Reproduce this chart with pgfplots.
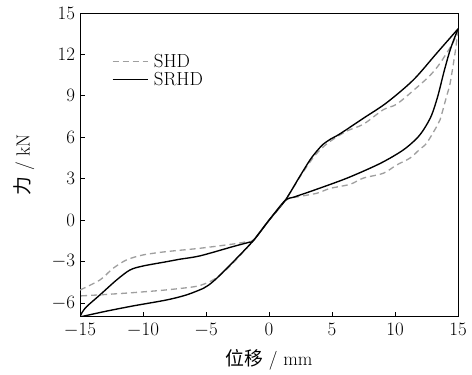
\documentclass[border=0pt]{standalone}
\usepackage{pgfplots}
\pgfplotsset{compat=1.18}
\usepackage{fontspec}
\newfontfamily\cjk{Noto Sans CJK SC}
\begin{document}
\begin{tikzpicture}[font=\fontsize{17.28}{20}\selectfont]
\begin{axis}[
  scale only axis,
  width=344bp, height=276.6bp,
  xmin=-15, xmax=15, ymin=-7, ymax=15,
  xtick={-15,-10,...,15},
  ytick={-6,-3,...,15},
  tick align=inside,
  xtick pos=bottom, ytick pos=left,
  major tick length=4.5bp,
  axis line style={line width=0.8pt},
  every tick/.style={line width=0.75pt, black},
  xticklabel style={yshift=-2bp},
  yticklabel style={xshift=-1bp},
  xlabel={{\cjk 位移} / mm},
  ylabel={{\cjk 力} / kN},
  xlabel style={yshift=-5bp},
  ylabel style={yshift=9bp},
  legend style={draw=none, fill=none, at={(0.075,0.88)}, anchor=north west,
    row sep=-1bp, column sep=3bp, cells={anchor=west}},
  legend image code/.code={\draw[#1] (0bp,0bp) -- (32bp,0bp);},
]
% SHD upper branch
\addplot[gray!75, line width=1.2pt, dash pattern=on 5.5bp off 3.6bp, smooth, tension=0.5] coordinates {
(-15,-5.05) (-13.41,-4.32) (-12.4,-3.5) (-11.3,-2.87) (-9.98,-2.51) (-8.12,-2.27)
(-5.48,-2.03) (-2.83,-1.72) (-1.9,-1.58) (-1.24,-1.42) (0,0) (1.27,1.42)
(2.5,3.2) (3.4,4.4) (4.05,5.09) (4.84,5.7) (6.16,6.45) (7.49,6.95) (9.07,8.0)
(10.13,8.4) (11.72,9.6) (12.8,10.5) (13.57,11.36) (14.63,12.9) (15,13.8)};
\addlegendentry{SHD}
% SRHD upper branch
\addplot[black, line width=1.25pt, smooth, tension=0.5] coordinates {
(-15,-7.0) (-14.85,-6.7) (-14.47,-6.25) (-13.41,-5.4) (-12.09,-4.32) (-11.03,-3.6)
(-9.98,-3.31) (-8.12,-3.0) (-7.06,-2.82) (-5.48,-2.58) (-2.83,-1.9) (-1.6,-1.6)
(-1.24,-1.47) (0,0) (1.27,1.42) (2.46,3.2) (3.25,4.36) (3.79,5.0) (4.3,5.5)
(4.9,5.88) (5.63,6.25) (7.49,7.38) (9.33,8.5) (11.45,10.15) (13.3,12.08) (15,13.85)};
\addlegendentry{SRHD}
% SHD lower branch
\addplot[gray!75, line width=1.2pt, dash pattern=on 5.5bp off 3.6bp, smooth, tension=0.5, forget plot] coordinates {
(15,13.8) (14.9,13.05) (14.76,12.08) (14.37,9.9) (14.1,9.0) (13.57,7.26) (13.3,6.77)
(12.5,5.57) (11.98,5.15) (11.19,4.5) (10.13,4.0) (9.07,3.4) (7.49,3.05) (6.43,2.6)
(4.84,2.3) (3.79,1.95) (2.2,1.68) (1.35,1.45) (0,0) (-1.24,-1.47) (-2.5,-2.75)
(-3.3,-3.5) (-4.0,-4.05) (-4.6,-4.4) (-5.74,-4.78) (-8.12,-5.04) (-10.77,-5.24)
(-13.41,-5.4) (-15,-5.48)};
% SRHD lower branch
\addplot[black, line width=1.25pt, smooth, tension=0.5, forget plot] coordinates {
(15,13.85) (14.4,12.4) (13.9,10.8) (13.4,9.0) (12.9,7.6) (12.3,6.6) (11.7,5.9)
(10.6,5.05) (8.8,4.1) (6.2,3.05) (3.5,2.15) (2.0,1.68) (1.27,1.42) (0,0)
(-1.24,-1.47) (-2.83,-3.0) (-4.15,-4.2) (-4.8,-4.7) (-5.21,-4.93) (-6.53,-5.4)
(-8.12,-5.77) (-10.77,-6.2) (-13,-6.6) (-15,-7.0)};
\end{axis}
\path ([xshift=-72.8bp,yshift=-43.7bp]current axis.south west) rectangle ([xshift=12.7bp,yshift=11.8bp]current axis.north east);
\end{tikzpicture}
\end{document}
